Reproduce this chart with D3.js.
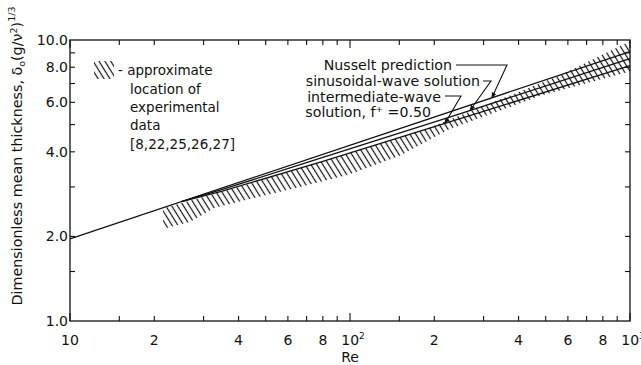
<!DOCTYPE html>
<html>
<head>
<meta charset="utf-8">
<script src="https://cdn.jsdelivr.net/npm/d3@7"></script>
<style>
  body { margin: 0; background: #fff; }
  text { font-family: "DejaVu Sans", sans-serif; fill: #111; }
</style>
</head>
<body>
<svg id="chart" width="641" height="365"></svg>
<script>
// Nusselt prediction (straight line on log-log axes)
const reNusselt = [10, 1000];
const dNusselt = [1.96, 9.09];

// Wave solutions
const reWave = [25, 35, 80, 227, 1000];
const dSinusoidal = [2.66, 2.94, 3.82, 5.32, 8.58];
const dIntermediate = [2.66, 2.90, 3.70, 5.11, 8.10];

// Band of experimental data (upper and lower edges)
const reHatchUpper = [21.5, 40, 100, 190, 344, 565, 1000];
const dHatchUpper = [2.52, 3.0, 3.95, 4.85, 6.15, 7.5, 9.9];
const reHatchLower = [21.5, 26.8, 32.9, 43.9, 66.3, 100, 150.6, 227, 479, 1000];
const dHatchLower = [2.13, 2.25, 2.53, 2.72, 3.00, 3.33, 3.87, 4.82, 6.33, 7.72];

// Axis ticks
const xMinorTicks = [15, 20, 30, 40, 50, 60, 70, 80, 90, 150, 200, 300, 400, 500, 600, 700, 800, 900];
const xMajorTicks = [10, 100, 1000];
const xLabelValues = [10, 20, 40, 60, 80, 100, 200, 400, 600, 800, 1000];
const xLabelBase = ["10", "2", "4", "6", "8", "10", "2", "4", "6", "8", "10"];
const xLabelSup = ["", "", "", "", "", "2", "", "", "", "", "3"];
const yTicks = [1.5, 2, 3, 4, 5, 6, 7, 8, 9];
const yLabelValues = [1, 2, 4, 6, 8, 10];
const yLabels = ["1.0", "2.0", "4.0", "6.0", "8.0", "10.0"];

const svg = d3.select("#chart");
const plotL = 70, plotR = 630, plotT = 40, plotB = 321;

const x = d3.scaleLog().domain([10, 1000]).range([plotL, plotR]);
const y = d3.scaleLog().domain([1, 10]).range([plotB, plotT]);

const defs = svg.append("defs");
// hatch pattern
const pat = defs.append("pattern")
  .attr("id", "hatch")
  .attr("patternUnits", "userSpaceOnUse")
  .attr("width", 5).attr("height", 10)
  .attr("patternTransform", "rotate(-32)");
pat.append("line")
  .attr("x1", 1.5).attr("y1", 0).attr("x2", 1.5).attr("y2", 10)
  .attr("stroke", "#111").attr("stroke-width", 1.2);
// small arrowhead for the annotation leaders
defs.append("marker")
  .attr("id", "arrow")
  .attr("viewBox", "0 0 10 10")
  .attr("refX", 9).attr("refY", 5)
  .attr("markerWidth", 6).attr("markerHeight", 6)
  .attr("markerUnits", "userSpaceOnUse")
  .attr("orient", "auto")
  .append("path").attr("d", "M0,1 L10,5 L0,9 Z").attr("fill", "#111");

// data band
const bandPts = reHatchUpper.map((r, i) => [x(r), y(dHatchUpper[i])])
  .concat(reHatchLower.map((r, i) => [x(r), y(dHatchLower[i])]).reverse());
svg.append("path")
  .attr("d", d3.line()(bandPts) + "Z")
  .attr("fill", "url(#hatch)");

// curves
const line = d3.line().x(d => x(d[0])).y(d => y(d[1]));
const curves = [
  reNusselt.map((r, i) => [r, dNusselt[i]]),
  reWave.map((r, i) => [r, dSinusoidal[i]]),
  reWave.map((r, i) => [r, dIntermediate[i]])
];
svg.selectAll(".curve").data(curves).enter().append("path")
  .attr("class", "curve")
  .attr("d", line)
  .attr("fill", "none")
  .attr("stroke", "#111")
  .attr("stroke-width", 1.3);

// frame
svg.append("rect")
  .attr("x", plotL).attr("y", plotT)
  .attr("width", plotR - plotL).attr("height", plotB - plotT)
  .attr("fill", "none").attr("stroke", "#111").attr("stroke-width", 1.3);

// ticks (all pointing inward)
const tickG = svg.append("g").attr("stroke", "#111").attr("stroke-width", 1.1);
xMinorTicks.forEach(v => {
  tickG.append("line").attr("x1", x(v)).attr("x2", x(v)).attr("y1", plotB).attr("y2", plotB - 5);
  tickG.append("line").attr("x1", x(v)).attr("x2", x(v)).attr("y1", plotT).attr("y2", plotT + 5);
});
xMajorTicks.forEach(v => {
  tickG.append("line").attr("x1", x(v)).attr("x2", x(v)).attr("y1", plotB).attr("y2", plotB - 8);
  tickG.append("line").attr("x1", x(v)).attr("x2", x(v)).attr("y1", plotT).attr("y2", plotT + 8);
});
yTicks.forEach(v => {
  tickG.append("line").attr("x1", plotL).attr("x2", plotL + 5).attr("y1", y(v)).attr("y2", y(v));
  tickG.append("line").attr("x1", plotR).attr("x2", plotR - 5).attr("y1", y(v)).attr("y2", y(v));
});

// x tick labels
xLabelValues.forEach((v, i) => {
  const t = svg.append("text")
    .attr("x", x(v) + (xLabelSup[i] ? 3 : 0)).attr("y", 345)
    .attr("text-anchor", "middle")
    .attr("font-size", 14);
  t.append("tspan").text(xLabelBase[i]);
  if (xLabelSup[i]) {
    t.append("tspan").attr("font-size", 9).attr("dy", -6).text(xLabelSup[i]);
  }
});
svg.append("text").attr("x", x(100)).attr("y", 362)
  .attr("text-anchor", "middle").attr("font-size", 14).text("Re");

// y tick labels
yLabelValues.forEach((v, i) => {
  svg.append("text")
    .attr("x", plotL - 2).attr("y", y(v) + 5)
    .attr("text-anchor", "end")
    .attr("font-size", 14)
    .text(yLabels[i]);
});

// y axis title
const yt = svg.append("text")
  .attr("transform", "translate(22,156) rotate(-90)")
  .attr("text-anchor", "middle")
  .attr("font-size", 14.3);
yt.append("tspan").text("Dimensionless mean thickness, δ");
yt.append("tspan").attr("font-size", 9.5).attr("dy", 3).text("o");
yt.append("tspan").attr("dy", -3).text("(g/");
yt.append("tspan").text("ν");
yt.append("tspan").attr("font-size", 9.5).attr("dy", -5).text("2");
yt.append("tspan").attr("dy", 5).text(")");
yt.append("tspan").attr("font-size", 9.5).attr("dy", -7).text("1/3");

// legend
svg.append("rect")
  .attr("x", 94).attr("y", 61).attr("width", 20).attr("height", 18)
  .attr("fill", "url(#hatch)");
const legendLines = [["- approximate", 118, 75], ["location of", 130, 94], ["experimental", 130, 112],
                     ["data", 130, 130], ["[8,22,25,26,27]", 130, 149]];
legendLines.forEach(d => {
  svg.append("text").attr("x", d[1]).attr("y", d[2]).attr("font-size", 13.5).text(d[0]);
});

// curve annotations with leaders
const notes = [["Nusselt prediction", 452, 70], ["sinusoidal-wave solution", 480, 86],
               ["intermediate-wave", 441, 101.5], ["solution, f⁺ =0.50", 431, 117]];
notes.forEach(d => {
  svg.append("text").attr("x", d[1]).attr("y", d[2]).attr("text-anchor", "end")
    .attr("font-size", 14.2).text(d[0]);
});
const leaders = [
  { pts: [[456, 65], [507, 65]], re: 321, d: 0 },
  { pts: [[483, 81], [491, 81]], re: 268, d: 1 },
  { pts: [[445, 96], [461, 96]], re: 218, d: 2 }
];
// leaders end on their curves
const lineVal = (arrRe, arrD, r) => {
  const lr = Math.log10(r);
  for (let i = 0; i < arrRe.length - 1; i++) {
    const a = Math.log10(arrRe[i]), b = Math.log10(arrRe[i + 1]);
    if (lr >= a && lr <= b) {
      const t = (lr - a) / (b - a);
      return Math.pow(10, Math.log10(arrD[i]) + t * (Math.log10(arrD[i + 1]) - Math.log10(arrD[i])));
    }
  }
  return arrD[arrD.length - 1];
};
const curveSrc = [[reNusselt, dNusselt], [reWave, dSinusoidal], [reWave, dIntermediate]];
leaders.forEach(l => {
  const [ar, ad] = curveSrc[l.d];
  const tip = [x(l.re), y(lineVal(ar, ad, l.re))];
  const pts = l.pts.concat([tip]);
  svg.append("path").attr("d", d3.line()(pts))
    .attr("fill", "none").attr("stroke", "#111").attr("stroke-width", 1.1)
    .attr("marker-end", "url(#arrow)");
});
</script>
</body>
</html>
